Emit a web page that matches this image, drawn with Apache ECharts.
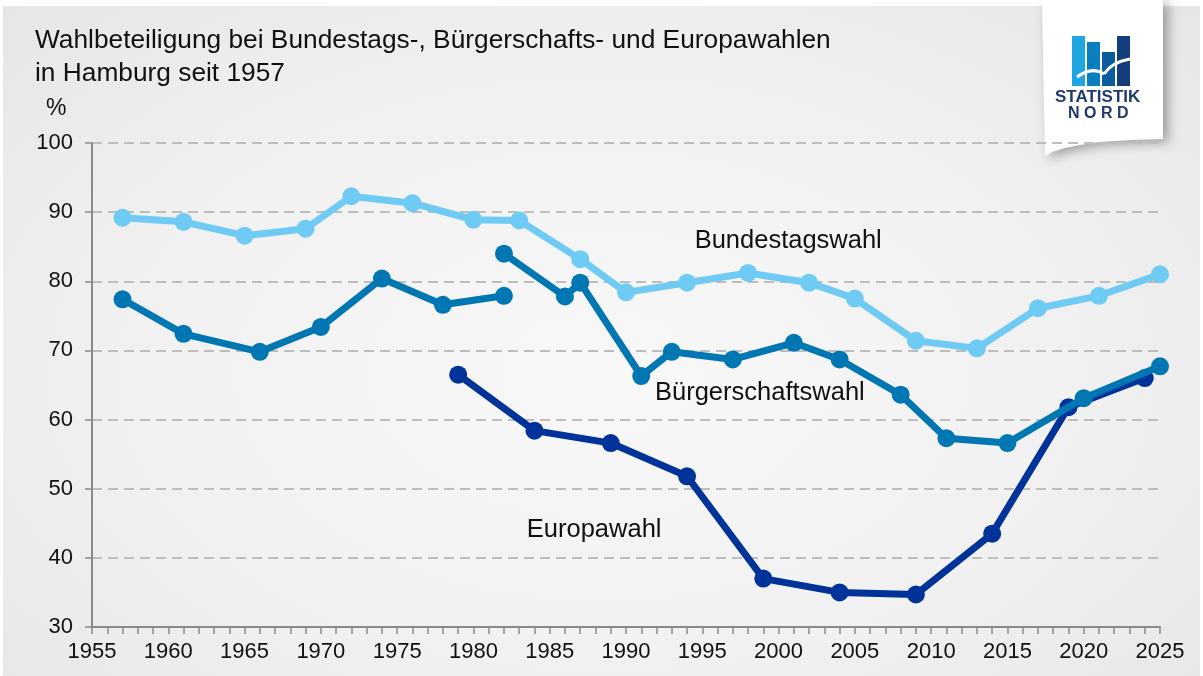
<!DOCTYPE html>
<html>
<head>
<meta charset="utf-8">
<script src="https://cdn.jsdelivr.net/npm/echarts@6/dist/echarts.min.js"></script>
<style>
  html,body{margin:0;padding:0;background:#fff;}
  #panel{position:absolute;left:3px;top:6px;width:1197px;height:670px;
    background:radial-gradient(ellipse at 50% 55%, #f8f8f8 0%, #f1f1f1 55%, #e6e6e6 100%);}
  #chart{position:absolute;left:0;top:0;width:1203px;height:676px;}
</style>
</head>
<body>
<div id="panel"></div>
<div id="chart"></div>
<script>
// ---- data ----
const bundYears = [1957,1961,1965,1969,1972,1976,1980,1983,1987,1990,1994,1998,2002,2005,2009,2013,2017,2021,2025];
const bundValues = [89.2,88.6,86.6,87.6,92.3,91.3,88.9,88.8,83.2,78.4,79.8,81.2,79.8,77.5,71.4,70.3,76.1,77.9,81.0];

const buergYears = [1957,1961,1966,1970,1974,1978,1982,1982.5,1982,1986,1987,1991,1993,1997,2001,2004,2008,2011,2015,2020,2025];
const buergValues = [77.4,72.4,69.8,73.4,80.4,76.6,77.9,null,84.0,77.8,79.8,66.3,69.8,68.7,71.1,68.7,63.6,57.3,56.6,63.1,67.7];

const euroYears = [1979,1984,1989,1994,1999,2004,2009,2014,2019,2024];
const euroValues = [66.5,58.4,56.6,51.8,37.0,35.0,34.7,43.5,61.8,66.0];

const xMin = 1955, xMax = 2025, xStep = 5;
const yMin = 30, yMax = 100, yStep = 10;

const titleLine1 = 'Wahlbeteiligung bei Bundestags-, Bürgerschafts- und Europawahlen';
const titleLine2 = 'in Hamburg seit 1957';
const seriesNames = ['Bundestagswahl','Bürgerschaftswahl','Europawahl'];
const labelPos = [[1994.5,85.8],[1991.9,63.8],[1983.5,44.0]];

// ---- chart ----
const FONT = '"Liberation Sans", Arial, sans-serif';
const pairs = (xs, vs) => xs.map((x,i)=>[x, vs[i]===null ? '-' : vs[i]]);
const colors = ['#70cbf4','#0077b3','#003399'];

function mkSeries(name, data, color, z, lp){
  return {
    name, type:'line', data, z,
    connectNulls:false,
    symbol:'circle', symbolSize:18,
    lineStyle:{width:7, color},
    itemStyle:{color},
    emphasis:{disabled:true},
    animation:false,
    markPoint:{
      symbol:'circle', symbolSize:0, animation:false,
      data:[{coord:lp, value:name}],
      label:{show:true, position:'right', distance:0, formatter:name,
        color:'#111', fontSize:25.5, fontFamily:FONT}
    }
  };
}

const chart = echarts.init(document.getElementById('chart'), null, {renderer:'canvas'});
chart.setOption({
  backgroundColor:'transparent',
  animation:false,
  textStyle:{fontFamily:FONT},
  grid:{left:92, right:43, top:143, bottom:49, containLabel:false},
  xAxis:{
    type:'value', min:xMin, max:xMax, interval:xStep,
    axisLine:{show:true, lineStyle:{color:'#8a8a8a', width:2}},
    axisTick:{show:true, length:7, lineStyle:{color:'#8a8a8a', width:1.5}},
    minorTick:{show:true, splitNumber:5, length:7, lineStyle:{color:'#8a8a8a', width:1.5}},
    splitLine:{show:false},
    axisLabel:{color:'#111', fontSize:22, margin:14, fontFamily:FONT, formatter:v=>String(v)}
  },
  yAxis:{
    type:'value', min:yMin, max:yMax, interval:yStep,
    axisLine:{show:true, lineStyle:{color:'#8a8a8a', width:2}},
    axisTick:{show:true, length:7, lineStyle:{color:'#8a8a8a', width:1.5}},
    splitLine:{show:true, lineStyle:{color:'#bdbdbd', width:2, type:[10,6]}},
    axisLabel:{color:'#111', fontSize:22, margin:19, fontFamily:FONT}
  },
  graphic:[
    {type:'text', left:35, top:24, style:{text:titleLine1+'\n'+titleLine2, fill:'#111',
      font:'26.3px '+FONT, lineHeight:33}},
    {type:'text', left:46, top:97, style:{text:'%', fill:'#111', font:'23px '+FONT}},
    // logo card
    {type:'polygon', shape:{points:[[1042,0],[1163,0],[1163,139],[1130,140],[1100,142],[1080,145],[1065,148],[1052,152],[1045,156]]},
      style:{fill:'#ffffff', shadowBlur:12, shadowColor:'rgba(0,0,0,0.35)', shadowOffsetX:5, shadowOffsetY:3}},
    {type:'rect', shape:{x:1072, y:36, width:13, height:50}, style:{fill:'#1ea5e2'}},
    {type:'rect', shape:{x:1087, y:42, width:13, height:44}, style:{fill:'#0a7fc0'}},
    {type:'rect', shape:{x:1102, y:52, width:13, height:34}, style:{fill:'#0b5b9f'}},
    {type:'rect', shape:{x:1117, y:36, width:13, height:50}, style:{fill:'#143e7b'}},
    {type:'bezierCurve', shape:{x1:1077, y1:77, cpx1:1092, cpy1:66, x2:1104, y2:74}, style:{fill:null, stroke:'#ffffff', lineWidth:3}},
    {type:'bezierCurve', shape:{x1:1104, y1:74, cpx1:1112, cpy1:62, x2:1130, y2:59}, style:{fill:null, stroke:'#ffffff', lineWidth:3}},
    {type:'text', left:1055, top:89, style:{text:'STATISTIK', fill:'#1f3a6b', font:'bold 17px '+FONT}},
    {type:'text', left:1068, top:106, style:{text:'N O R D', fill:'#1f3a6b', font:'bold 16px '+FONT}}
  ],
  series:[
    mkSeries(seriesNames[2], pairs(euroYears, euroValues), colors[2], 2, labelPos[2]),
    mkSeries(seriesNames[1], pairs(buergYears, buergValues), colors[1], 3, labelPos[1]),
    mkSeries(seriesNames[0], pairs(bundYears, bundValues), colors[0], 4, labelPos[0])
  ]
});
</script>
</body>
</html>
